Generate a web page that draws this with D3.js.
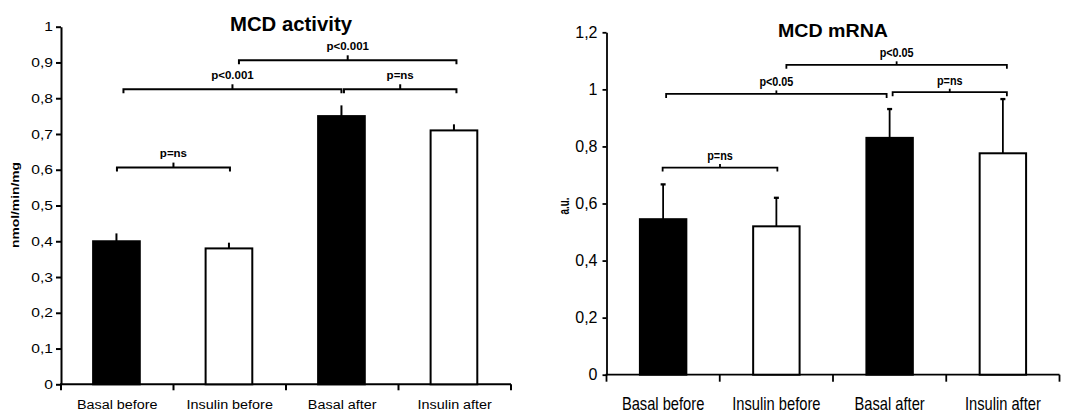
<!DOCTYPE html>
<html>
<head>
<meta charset="utf-8">
<script src="https://cdn.jsdelivr.net/npm/d3@7"></script>
<style>
  html, body { margin: 0; padding: 0; background: #fff; }
  svg { display: block; }
  text { font-family: "Liberation Sans", Arial, sans-serif; fill: #000; }
</style>
</head>
<body>
<svg id="chart" width="1076" height="415"></svg>
<script>
// ---------- data ----------
const categories = ["Basal before", "Insulin before", "Basal after", "Insulin after"];
const barFills = ["#000000", "#ffffff", "#000000", "#ffffff"];

const activityTitle = "MCD activity";
const activityYLabel = "nmol/min/mg";
const activityValues = [0.40, 0.38, 0.75, 0.71];
const activityErrors = [0.022, 0.016, 0.030, 0.017];
const activityTicks = [0, 0.1, 0.2, 0.3, 0.4, 0.5, 0.6, 0.7, 0.8, 0.9, 1];
const activityBrackets = [
  { from: 0, to: 1, y: 0.606, label: "p=ns" },
  { from: 0, to: 2, y: 0.825, label: "p<0.001" },
  { from: 2, to: 3, y: 0.825, label: "p=ns" },
  { from: 1, to: 3, y: 0.906, label: "p<0.001" }
];

const mrnaTitle = "MCD mRNA";
const mrnaYLabel = "a.u.";
const mrnaValues = [0.545, 0.52, 0.83, 0.776];
const mrnaErrors = [0.122, 0.100, 0.101, 0.190];
const mrnaTicks = [0, 0.2, 0.4, 0.6, 0.8, 1, 1.2];
const mrnaBrackets = [
  { from: 0, to: 1, y: 0.726, label: "p=ns" },
  { from: 0, to: 2, y: 0.984, label: "p<0.05" },
  { from: 2, to: 3, y: 0.990, label: "p=ns" },
  { from: 1, to: 3, y: 1.086, label: "p<0.05" }
];

// ---------- layout ----------
const fmt = v => String(v).replace(".", ",");
const svg = d3.select("#chart");

function stretch(sel, factor) {
  sel.each(function () {
    const len = this.getComputedTextLength();
    d3.select(this).attr("textLength", len * factor).attr("lengthAdjust", "spacingAndGlyphs");
  });
}

function drawChart(cfg) {
  const g = svg.append("g");
  const x = d3.scaleBand().domain(categories).range(cfg.xRange);
  const y = d3.scaleLinear().domain([0, cfg.yMax]).range(cfg.yRange);
  const bw = x.bandwidth() * cfg.barFrac;
  const cx = i => x(categories[i]) + x.bandwidth() / 2 + cfg.barShift;

  // y axis
  const yAxis = g.append("g")
    .attr("transform", `translate(${cfg.xRange[0]},0)`)
    .call(d3.axisLeft(y).tickValues(cfg.ticks).tickFormat(fmt)
      .tickSize(cfg.yTickSize).tickPadding(cfg.yTickPad).tickSizeOuter(0));
  yAxis.select(".domain").attr("stroke", "#000").attr("stroke-width", cfg.axisW);
  yAxis.selectAll(".tick line").attr("stroke", "#000").attr("stroke-width", cfg.axisW);
  yAxis.selectAll(".tick text").attr("font-size", cfg.tickFont).attr("fill", "#000")
    .attr("font-family", '"Liberation Sans", Arial, sans-serif')
    .call(stretch, cfg.tickStretch);

  // x axis (line with ticks at band boundaries)
  const xAxisG = g.append("g").attr("transform", `translate(0,${cfg.yRange[0]})`);
  xAxisG.append("line")
    .attr("x1", cfg.xRange[0] - cfg.axisW / 2).attr("x2", cfg.xRange[1])
    .attr("stroke", "#000").attr("stroke-width", cfg.axisW);
  const bounds = categories.map(c => x(c)).concat([x(categories[categories.length - 1]) + x.bandwidth()]);
  xAxisG.selectAll("line.xt").data(bounds).join("line").attr("class", "xt")
    .attr("x1", d => d).attr("x2", d => d).attr("y1", 0).attr("y2", cfg.xTickSize)
    .attr("stroke", "#000").attr("stroke-width", cfg.axisW);
  xAxisG.selectAll("text").data(categories).join("text")
    .attr("x", d => x(d) + x.bandwidth() / 2).attr("y", cfg.xLabelDy)
    .attr("text-anchor", "middle").attr("font-size", cfg.xFont)
    .text(d => d)
    .call(stretch, cfg.xStretch);

  // error bars (drawn first, bars overlay them)
  const errTop = cfg.values.map((v, i) => v + cfg.errors[i]);
  g.selectAll("line.err").data(cfg.values).join("line").attr("class", "err")
    .attr("x1", (d, i) => cx(i)).attr("x2", (d, i) => cx(i))
    .attr("y1", d => y(d)).attr("y2", (d, i) => y(errTop[i]))
    .attr("stroke", "#000").attr("stroke-width", cfg.errW);
  if (cfg.capW > 0) {
    g.selectAll("line.cap").data(errTop).join("line").attr("class", "cap")
      .attr("x1", (d, i) => cx(i) - cfg.capW / 2).attr("x2", (d, i) => cx(i) + cfg.capW / 2)
      .attr("y1", d => y(d)).attr("y2", d => y(d))
      .attr("stroke", "#000").attr("stroke-width", cfg.errW + 0.5);
  }

  // bars
  g.selectAll("rect.bar").data(cfg.values).join("rect").attr("class", "bar")
    .attr("x", (d, i) => cx(i) - bw / 2).attr("width", bw)
    .attr("y", d => y(d)).attr("height", d => y(0) - y(d))
    .attr("fill", (d, i) => barFills[i]).attr("stroke", "#000").attr("stroke-width", cfg.barStroke);

  // significance brackets
  cfg.brackets.forEach((b, k) => {
    const off = cfg.bracketOffsets[k];
    const x0 = cx(b.from) + off[0], x1 = cx(b.to) + off[1];
    const yy = y(b.y), xm = (x0 + x1) / 2;
    g.append("path")
      .attr("d", `M${x0},${yy + cfg.bracketDrop} V${yy} H${x1} V${yy + cfg.bracketDrop}`)
      .attr("fill", "none").attr("stroke", "#000").attr("stroke-width", cfg.bracketW);
    g.append("line").attr("x1", xm).attr("x2", xm).attr("y1", yy).attr("y2", yy - cfg.bracketRise)
      .attr("stroke", "#000").attr("stroke-width", cfg.bracketW);
    g.append("text").attr("x", xm).attr("y", yy - cfg.pLabelDy)
      .attr("text-anchor", "middle").attr("font-size", cfg.pFont).attr("font-weight", "bold")
      .text(b.label).call(stretch, cfg.pStretch);
  });

  // title
  g.append("text").attr("x", cfg.titleX).attr("y", cfg.titleY)
    .attr("text-anchor", "middle").attr("font-size", cfg.titleFont).attr("font-weight", "bold")
    .attr("textLength", cfg.titleLen).attr("lengthAdjust", "spacingAndGlyphs")
    .text(cfg.title);

  // y label
  g.append("text")
    .attr("transform", `translate(${cfg.yLabelX},${cfg.yLabelY}) rotate(-90)`)
    .attr("text-anchor", "middle").attr("font-size", cfg.yLabelFont).attr("font-weight", "bold")
    .attr("textLength", cfg.yLabelLen).attr("lengthAdjust", "spacingAndGlyphs")
    .text(cfg.yLabel);
}

drawChart({
  values: activityValues, errors: activityErrors, ticks: activityTicks, brackets: activityBrackets,
  title: activityTitle, yLabel: activityYLabel, yMax: 1,
  xRange: [61, 511], yRange: [384.3, 26.7], barFrac: 0.415, barShift: -0.8,
  axisW: 2, yTickSize: 5, yTickPad: 3, xTickSize: 6, tickFont: 13, tickStretch: 1.2,
  xFont: 12.5, xStretch: 1.15, xLabelDy: 25.2,
  errW: 2, capW: 0, barStroke: 2,
  bracketOffsets: [[0.5, 1], [7, 0], [2.5, 2.5], [10, 2.5]],
  bracketW: 2, bracketDrop: 4, bracketRise: 5, pLabelDy: 10.5, pFont: 10, pStretch: 1.15,
  titleX: 291, titleY: 31, titleFont: 21, titleLen: 122,
  yLabelX: 19, yLabelY: 205, yLabelFont: 10, yLabelLen: 86
});

drawChart({
  values: mrnaValues, errors: mrnaErrors, ticks: mrnaTicks, brackets: mrnaBrackets,
  title: mrnaTitle, yLabel: mrnaYLabel, yMax: 1.2,
  xRange: [606.5, 1059.5], yRange: [374.7, 32.3], barFrac: 0.41, barShift: 0,
  axisW: 1.8, yTickSize: 4, yTickPad: 5, xTickSize: 7, tickFont: 16, tickStretch: 1.0,
  xFont: 18.6, xStretch: 0.79, xLabelDy: 35.3,
  errW: 1.8, capW: 5, barStroke: 2,
  bracketOffsets: [[-0.5, 1], [3, -3], [3, 4], [10, 4]],
  bracketW: 1.8, bracketDrop: 4, bracketRise: 3.5, pLabelDy: 7.5, pFont: 12, pStretch: 0.9,
  titleX: 833, titleY: 37.3, titleFont: 19, titleLen: 110,
  yLabelX: 569, yLabelY: 206, yLabelFont: 15, yLabelLen: 17
});
</script>
</body>
</html>
